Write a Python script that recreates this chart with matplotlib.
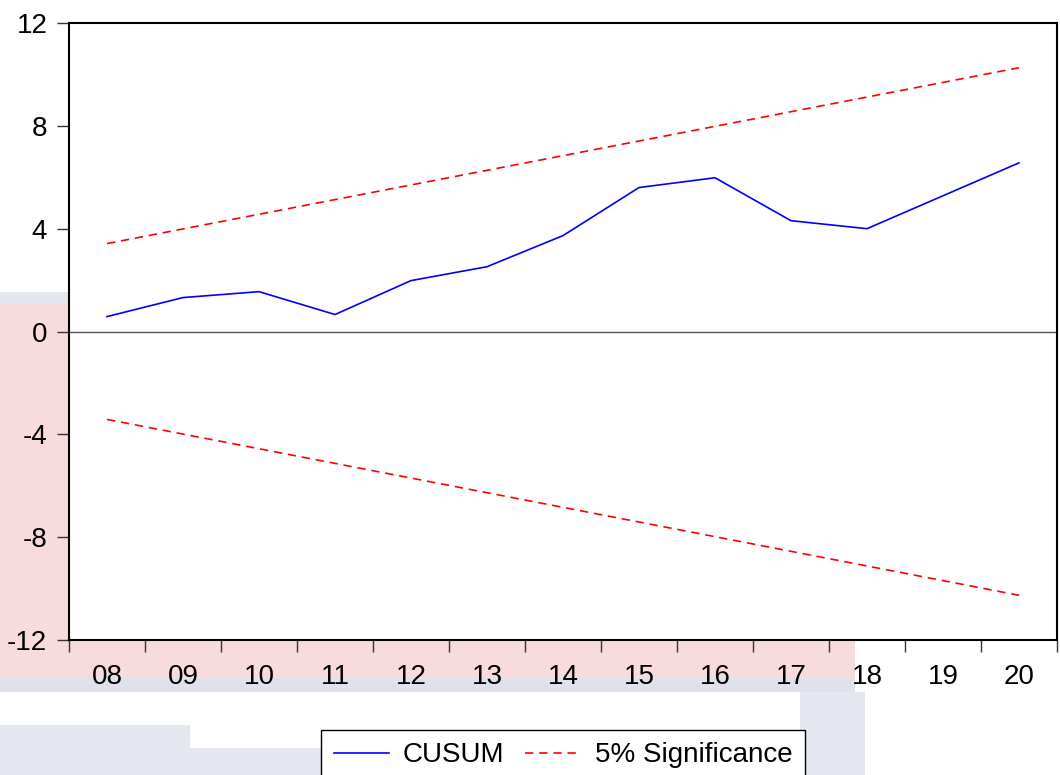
import numpy as np
import matplotlib.pyplot as plt
from matplotlib.patches import Rectangle
from matplotlib.ticker import FixedLocator

plt.rcParams['font.family'] = ['Liberation Sans', 'DejaVu Sans']

years = ['08', '09', '10', '11', '12', '13', '14', '15', '16', '17', '18', '19', '20']
cusum = [0.58, 1.32, 1.55, 0.66, 1.98, 2.52, 3.73, 5.60, 5.98, 4.31, 4.00, 5.28, 6.56]
upper = [3.42, 3.99, 4.56, 5.13, 5.70, 6.27, 6.84, 7.41, 7.98, 8.55, 9.12, 9.69, 10.26]
lower = [-3.42, -3.99, -4.56, -5.13, -5.70, -6.27, -6.84, -7.41, -7.98, -8.55, -9.12, -9.69, -10.26]

W, H = 1060, 775
fig = plt.figure(figsize=(W / 100, H / 100), dpi=100)

# faint watermark bands behind the chart (pixel coords, y from top)
def band(x0, y0, x1, y1, color):
    fig.add_artist(Rectangle((x0 / W, 1 - y1 / H), (x1 - x0) / W, (y1 - y0) / H,
                             transform=fig.transFigure, color=color, zorder=0, lw=0))

band(0, 292, 855, 678, '#f8dcdd')
band(0, 292, 69, 304, '#e4e6ee')
band(0, 678, 855, 692, '#dfe2eb')
band(0, 725, 190, 775, '#e4e7ef')
band(190, 748, 330, 775, '#e4e7ef')
band(800, 692, 865, 775, '#e4e7ef')

ax = fig.add_axes([69 / W, 1 - 640 / H, (1057 - 69) / W, (640 - 23) / H])
ax.set_facecolor('white')

x = np.arange(len(years))
ax.plot(x, cusum, color='#0000ff', lw=1.2, label='CUSUM')
ax.plot(x, upper, color='#ff0000', lw=1.2, ls=(0, (5, 3.5)), label='5% Significance')
ax.plot(x, lower, color='#ff0000', lw=1.2, ls=(0, (5, 3.5)))
ax.axhline(0, color='#555555', lw=1.0)

ax.set_xlim(-0.5, len(years) - 0.5)
ax.set_ylim(-12, 12)
ax.set_yticks([-12, -8, -4, 0, 4, 8, 12])
ax.set_yticklabels(['-12', '-8', '-4', '0', '4', '8', '12'])
ax.set_xticks(x)
ax.set_xticklabels(years)
ax.xaxis.set_minor_locator(FixedLocator(np.arange(-0.5, len(years), 1.0)))

ax.tick_params(axis='y', direction='out', length=8.6, width=1, color='#333333',
               labelsize=20, pad=7)
ax.tick_params(axis='x', which='major', length=0, labelsize=20, pad=17)
ax.tick_params(axis='x', which='minor', direction='out', length=8.6, width=1, color='#333333')

for s in ax.spines.values():
    s.set_color('black')
    s.set_linewidth(1.5)

leg = fig.legend(loc='upper center', bbox_to_anchor=(563 / W, 1 - 730 / H), ncol=2,
                 frameon=True, fancybox=False, shadow=False, fontsize=20,
                 handlelength=2.0, handletextpad=0.5, columnspacing=0.75,
                 borderpad=0.45, borderaxespad=0)
leg.get_frame().set_edgecolor('black')
leg.get_frame().set_linewidth(1.0)
leg.get_frame().set_alpha(1)

fig.savefig('out.png', dpi=100)
